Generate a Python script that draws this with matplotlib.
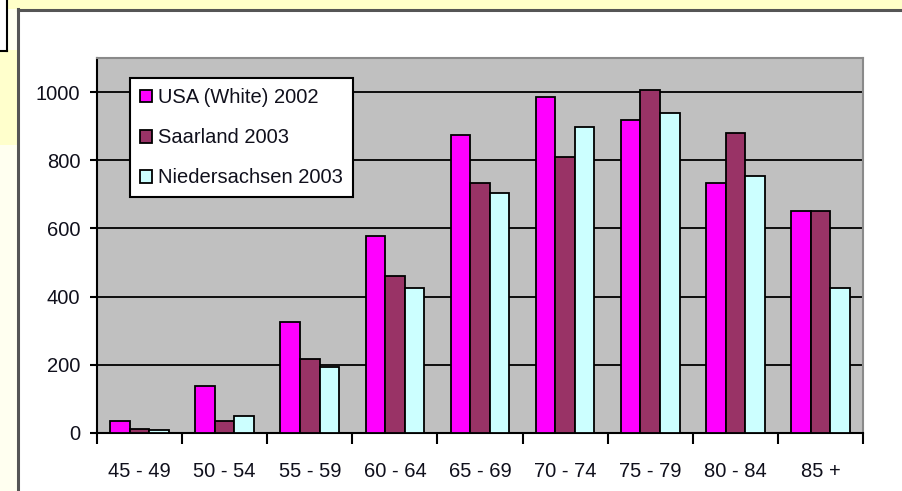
import numpy as np
import matplotlib.pyplot as plt
from matplotlib.patches import Rectangle
from matplotlib.lines import Line2D

# Altersgruppen und Raten je 100.000
age_groups = ["45 - 49", "50 - 54", "55 - 59", "60 - 64", "65 - 69",
              "70 - 74", "75 - 79", "80 - 84", "85 +"]
usa_white_2002 = [35, 138, 325, 579, 874, 985, 918, 734, 652]
saarland_2003 = [13, 34, 216, 462, 734, 810, 1007, 880, 652]
niedersachsen_2003 = [8, 50, 193, 424, 705, 898, 940, 755, 424]

series = [
    ("USA (White) 2002", usa_white_2002, "#ff00ff"),
    ("Saarland 2003", saarland_2003, "#993366"),
    ("Niedersachsen 2003", niedersachsen_2003, "#ccffff"),
]

W, H = 902, 491
TXT = "#10101c"
plt.rcParams["font.family"] = ["Liberation Sans", "DejaVu Sans"]

fig = plt.figure(figsize=(W / 100, H / 100), dpi=100)
fig.patch.set_facecolor("white")


def box(x0, y0, x1, y1, **kw):
    # Rechteck in Pixelkoordinaten (y von oben)
    fig.add_artist(Rectangle((x0 / W, 1 - y1 / H), (x1 - x0) / W, (y1 - y0) / H,
                             transform=fig.transFigure, zorder=-10, **kw))


def hline(x0, x1, y, **kw):
    fig.add_artist(Line2D([x0 / W, x1 / W], [1 - y / H, 1 - y / H],
                          transform=fig.transFigure, zorder=-9, **kw))


def vline(x, y0, y1, **kw):
    fig.add_artist(Line2D([x / W, x / W], [1 - y0 / H, 1 - y1 / H],
                          transform=fig.transFigure, zorder=-9, **kw))


# Hintergrund: gelbe Ränder, kleiner Kasten oben links
box(0, 0, W, H, facecolor="#fffff0", edgecolor="none")
box(0, 0, W, 9, facecolor="#ffffc8", edgecolor="none")
box(0, 50, 18, 145, facecolor="#ffffcc", edgecolor="none")
box(0, 0, 7.5, 50.5, facecolor="white", edgecolor="none")
vline(7.5, 0, 50.5, color="black", lw=1.5)
hline(0, 7.5, 50.5, color="black", lw=1.5)

# Diagrammfläche (weiß mit schwarzem Rand oben/links)
box(18, 9, W, H, facecolor="white", edgecolor="none")
hline(18, W, 9.5, color="#555555", lw=2.2)
vline(18, 9, H, color="#555555", lw=2.2)

ax_left, ax_right, ax_top, ax_bottom = 97, 863, 58, 433
ax = fig.add_axes([ax_left / W, 1 - ax_bottom / H,
                   (ax_right - ax_left) / W, (ax_bottom - ax_top) / H])
ax.set_facecolor("#c0c0c0")

n = len(age_groups)
x = np.arange(n)
bw = 0.23
for i, (label, vals, color) in enumerate(series):
    ax.bar(x + (i - 1) * bw, vals, width=bw, color=color, edgecolor="black",
           linewidth=1.3, label=label, zorder=3)

ax.set_xlim(-0.5, n - 0.5)
ax.set_ylim(0, 1100)
ax.set_yticks(range(0, 1001, 200))
for v in range(200, 1001, 200):
    ax.axhline(v, color="black", lw=1.3, zorder=1)

ax.set_xticks(x)
ax.set_xticklabels(age_groups)
ax.set_xticks(np.arange(-0.5, n, 1.0), minor=True)
ax.tick_params(axis="x", which="major", length=0, pad=21, labelsize=14.5, labelcolor=TXT)
ax.tick_params(axis="x", which="minor", length=8, width=1.5, direction="out")
ax.tick_params(axis="y", length=5, width=1.5, direction="out", pad=7,
               labelsize=14.5, labelcolor=TXT)

for side in ("left", "bottom"):
    ax.spines[side].set_color("black")
    ax.spines[side].set_linewidth(1.5)
for side in ("top", "right"):
    ax.spines[side].set_color("#8a8a8a")
    ax.spines[side].set_linewidth(1.5)

leg = ax.legend(loc="upper left", bbox_to_anchor=((130 - ax_left) / (ax_right - ax_left),
                                                    (ax_bottom - 78) / (ax_bottom - ax_top)),
                fontsize=14.5, frameon=True, fancybox=False, framealpha=1,
                edgecolor="black", handlelength=0.6, handleheight=0.6,
                handletextpad=0.3, borderpad=0.5, labelspacing=1.05, borderaxespad=0)
leg.get_frame().set_linewidth(1.5)
for t in leg.get_texts():
    t.set_color(TXT)
leg.set_zorder(5)

fig.savefig("out.png", dpi=100)
